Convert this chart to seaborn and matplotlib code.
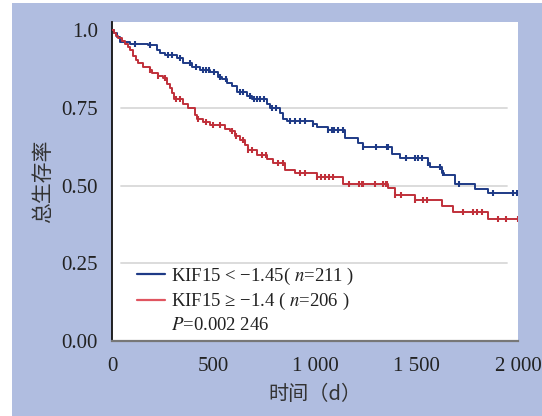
import numpy as np
import pandas as pd
import matplotlib
matplotlib.use("Agg")
import matplotlib.pyplot as plt
from matplotlib.lines import Line2D
from matplotlib.patches import Rectangle
import seaborn as sns

# ---------------- data ----------------
blue_t = [0, 10, 25, 39, 89, 177, 222, 236, 261, 320, 350, 394, 433, 483, 522, 542,
          566, 591, 616, 665, 690, 764, 778, 828, 842, 862, 990, 1010, 1064, 1148,
          1212, 1236, 1379, 1419, 1557, 1567, 1626, 1635, 1690, 1788, 1852, 2000]
blue_s = [1.000, 0.990, 0.977, 0.961, 0.955, 0.952, 0.936, 0.926, 0.920, 0.910, 0.894,
          0.881, 0.871, 0.865, 0.849, 0.842, 0.830, 0.820, 0.801, 0.788, 0.778, 0.762,
          0.749, 0.733, 0.714, 0.707, 0.698, 0.688, 0.678, 0.653, 0.637, 0.624, 0.601,
          0.588, 0.572, 0.559, 0.540, 0.534, 0.505, 0.489, 0.476, 0.476]
blue_censor = [113, 187, 276, 296, 335, 384, 414, 448, 463, 478, 502, 532, 562, 631,
               645, 680, 700, 714, 729, 749, 788, 808, 877, 901, 926, 951, 990, 1064,
               1084, 1094, 1113, 1138, 1236, 1300, 1355, 1360, 1448, 1493, 1507, 1527,
               1557, 1616, 1630, 1709, 1877, 1975, 1995]

red_t = [0, 10, 20, 30, 49, 64, 79, 89, 103, 118, 128, 153, 187, 197, 227, 251, 271,
         286, 296, 305, 350, 374, 409, 419, 448, 483, 557, 581, 606, 631, 655, 670,
         714, 764, 793, 852, 901, 1010, 1138, 1360, 1394, 1493, 1626, 1680, 1852, 2000]
red_s = [1.000, 0.990, 0.981, 0.974, 0.965, 0.955, 0.945, 0.936, 0.916, 0.904, 0.894,
         0.881, 0.871, 0.862, 0.852, 0.846, 0.826, 0.814, 0.797, 0.778, 0.762, 0.749,
         0.727, 0.714, 0.704, 0.695, 0.682, 0.675, 0.659, 0.646, 0.630, 0.614, 0.598,
         0.585, 0.572, 0.550, 0.540, 0.527, 0.505, 0.492, 0.469, 0.453, 0.434, 0.415,
         0.392, 0.392]
red_censor = [187, 227, 261, 315, 335, 424, 463, 498, 532, 591, 611, 645, 670, 690,
              739, 759, 818, 842, 926, 951, 1010, 1030, 1049, 1069, 1089, 1167, 1217,
              1232, 1236, 1296, 1335, 1350, 1355, 1394, 1424, 1493, 1532, 1552, 1729,
              1778, 1798, 1823, 1901, 1941, 2000]

group_labels = ["KIF15 < \u22121.45( $n$=211 )", "KIF15 \u2265 \u22121.4 ( $n$=206 )"]
p_label = "$P$=0.002 246"
x_ticks = [0, 500, 1000, 1500, 2000]
x_tick_labels = ["0", "500", "1 000", "1 500", "2 000"]
y_ticks = [0, 0.25, 0.5, 0.75, 1.0]
y_tick_labels = ["0.00", "0.25", "0.50", "0.75", "1.0"]
x_label = "时间（d）"
y_label = "总生存率"

# ---------------- style ----------------
sns.set_style("white")
plt.rcParams["font.family"] = ["Liberation Serif", "DejaVu Serif", "Noto Sans CJK SC"]
plt.rcParams["mathtext.fontset"] = "stix"
BLUE = "#1e3a86"
RED = "#c0303a"
BG = "#b0bde0"

def step_value(ts, ss, c):
    idx = np.searchsorted(ts, c, side="right") - 1
    return np.asarray(ss)[idx]

lines = pd.concat([
    pd.DataFrame({"t": blue_t, "s": blue_s, "g": "blue"}),
    pd.DataFrame({"t": red_t, "s": red_s, "g": "red"}),
])
cens = pd.concat([
    pd.DataFrame({"t": blue_censor, "s": step_value(blue_t, blue_s, blue_censor), "g": "blue"}),
    pd.DataFrame({"t": red_censor, "s": step_value(red_t, red_s, red_censor), "g": "red"}),
])
pal = {"blue": BLUE, "red": RED}

fig = plt.figure(figsize=(5.42, 4.16), dpi=100, facecolor="white")
fig.patches.append(Rectangle((12 / 542, 0), 1 - 12 / 542, 413 / 416,
                             transform=fig.transFigure, facecolor=BG, edgecolor="none",
                             zorder=-10))
ax = fig.add_axes([112 / 542, 75 / 416, 406 / 542, 319 / 416])
ax.set_zorder(5)
ax.set_facecolor("white")

for y in [0.25, 0.5, 0.75]:
    ax.axhline(y, xmin=0.022, xmax=0.973, color="#d9d9d9", lw=1.3, zorder=1)

sns.lineplot(data=lines, x="t", y="s", hue="g", palette=pal, drawstyle="steps-post",
             estimator=None, sort=False, legend=False, lw=1.4, ax=ax, zorder=3)
sns.scatterplot(data=cens, x="t", y="s", hue="g", palette=pal, marker="|", s=22,
                linewidth=1.5, legend=False, ax=ax, zorder=4)

ax.set_xlim(0, 2000)
ax.set_ylim(0, 1.026)
ax.set_xticks(x_ticks)
ax.set_xticklabels(x_tick_labels)
ax.set_xticks([250, 750, 1250, 1750], minor=True)
ax.set_yticks(y_ticks)
ax.set_yticklabels(y_tick_labels)
ax.tick_params(axis="both", which="both", direction="out", labelsize=15, color="#555555",
               length=4, width=1.0, labelcolor="#222222")
ax.tick_params(axis="x", which="both", pad=8, length=3.5)
ax.tick_params(axis="y", pad=6)

for side in ["top", "right"]:
    ax.spines[side].set_visible(False)
ax.spines["left"].set_color("#111111")
ax.spines["left"].set_linewidth(1.3)
ax.spines["bottom"].set_color("#777777")
ax.spines["bottom"].set_linewidth(1.6)

ax.set_xlabel(x_label, fontsize=14.5, family=["Noto Sans CJK SC"], color="#333333", labelpad=6)
ax.set_ylabel(y_label, fontsize=15, family=["Noto Sans CJK SC"], color="#333333", labelpad=5)

handles = [Line2D([0], [0], color=BLUE, lw=1.6),
           Line2D([0], [0], color="#e05560", lw=1.6),
           Line2D([0], [0], color="none")]
leg = ax.legend(handles, group_labels + [p_label], loc="lower left",
                bbox_to_anchor=(0.038, -0.008), frameon=False, fontsize=13.5,
                handlelength=1.5, handletextpad=0.3, labelspacing=0.25, borderpad=0)
for t in leg.get_texts():
    t.set_color("#222222")

fig.savefig("out.png", dpi=100, facecolor=fig.get_facecolor())
